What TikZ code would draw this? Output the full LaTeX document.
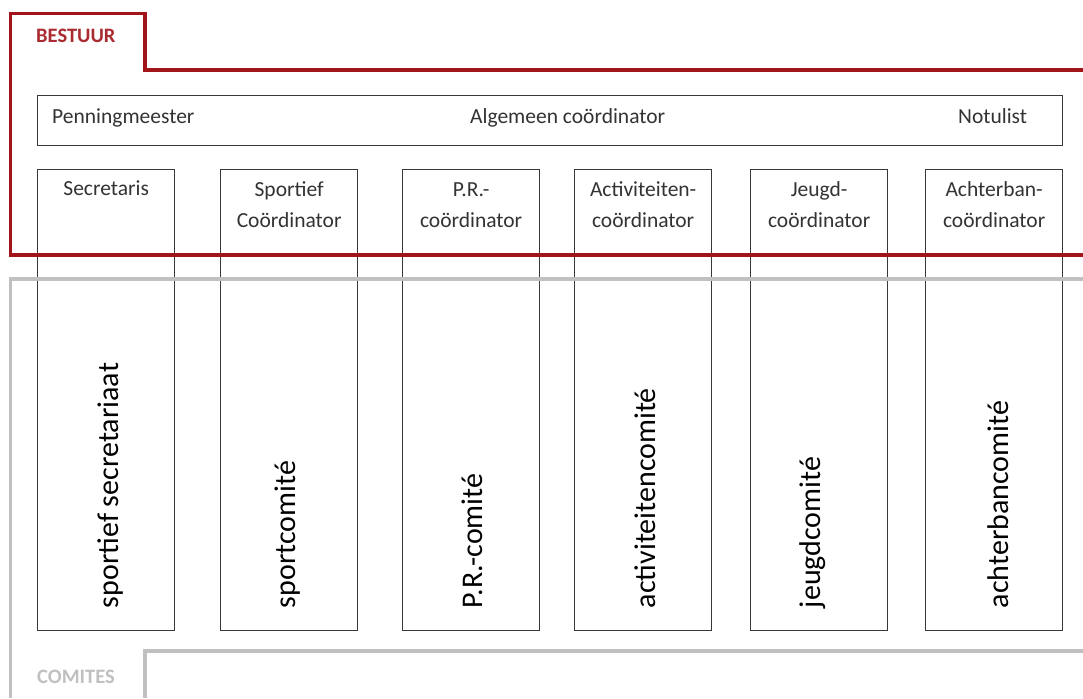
\documentclass[tikz,border=0pt]{standalone}
\usepackage{fontspec}
\setmainfont{Carlito}
\usepackage{xcolor}
\definecolor{bestuurred}{RGB}{160,20,26}
\definecolor{comitegray}{RGB}{192,192,192}
\definecolor{boxline}{RGB}{56,56,56}

\begin{document}
\begin{tikzpicture}[x=1pt,y=-1pt,
  colbox/.style={draw=boxline,line width=1.3pt,minimum width=137pt,minimum height=461pt,anchor=north west,inner sep=0pt},
  toptext/.style={anchor=base,inner sep=0pt,align=center,text=black!80,font=\fontsize{21.5}{31}\selectfont},
  rowtext/.style={inner sep=0pt,text=black!80,font=\fontsize{21.5}{31}\selectfont},
  comtext/.style={rotate=90,anchor=base west,inner sep=0pt,font=\fontsize{30}{36}\selectfont},
  frametitle/.style={anchor=base west,inner sep=0pt,font=\bfseries\fontsize{20.5}{24}\selectfont}]
            		\fill[white] (0,0) rectangle (1083,698);
            		\useasboundingbox (0,0) rectangle (1083,698);

            		% algemeen bestuur
            		\node (board) at (37,95) [draw=boxline,line width=1.3pt,minimum width=1025pt,minimum height=50pt,anchor=north west,inner sep=0pt] {};
            		\node[rowtext,anchor=base west] at ([xshift=15pt,yshift=-3pt]board.west) {Penningmeester};
            		\node[rowtext,anchor=base west] at ([xshift=433pt,yshift=-3pt]board.west) {Algemeen coördinator};
            		\node[rowtext,anchor=base east] at ([xshift=-36pt,yshift=-3pt]board.east) {Notulist};

            		% kolommen (base = laatste regel)
            		\node (sec) at (37,169) [colbox] {};
            		\node[toptext] at ([yshift=-26pt]sec.north) {Secretaris};
            		\node[comtext] at ([xshift=81pt,yshift=23pt]sec.south west) {sportief secretariaat};

            		\node (sport) at (220,169) [colbox] {};
            		\node[toptext] at ([yshift=-58pt]sport.north) {Sportief\\Coördinator};
            		\node[comtext] at ([xshift=75pt,yshift=23pt]sport.south west) {sportcomité};

            		\node (pr) at (402,169) [colbox] {};
            		\node[toptext] at ([yshift=-58pt]pr.north) {P.R.-\\coördinator};
            		\node[comtext] at ([xshift=80pt,yshift=23pt]pr.south west) {P.R.-comité};

            		\node (act) at (574,169) [colbox] {};
            		\node[toptext] at ([yshift=-58pt]act.north) {Activiteiten-\\coördinator};
            		\node[comtext] at ([xshift=81pt,yshift=23pt]act.south west) {activiteitencomité};

            		\node (jeugd) at (750,169) [colbox] {};
            		\node[toptext] at ([yshift=-58pt]jeugd.north) {Jeugd-\\coördinator};
            		\node[comtext] at ([xshift=70pt,yshift=23pt]jeugd.south west) {jeugdcomité};

            		\node (achter) at (925,169) [colbox] {};
            		\node[toptext] at ([yshift=-58pt]achter.north) {Achterban-\\coördinator};
            		\node[comtext] at ([xshift=83pt,yshift=23pt]achter.south west) {achterbancomité};

            		% kaders
            		\draw[bestuurred,line width=3.5pt] (1083,70) -- (145,70) -- (145,13.5) -- (10.5,13.5) -- (10.5,255) -- (1083,255);
            		\node[frametitle,text=bestuurred!90] at (36,43) {BESTUUR};

            		\draw[comitegray,line width=3.5pt] (1083,279) -- (10.5,279) -- (10.5,698);
            		\draw[comitegray,line width=3.5pt] (145,698) -- (145,651) -- (1083,651);
            		\node[frametitle,text=comitegray] at (37,683) {COMITES};

        		\end{tikzpicture}
\end{document}
